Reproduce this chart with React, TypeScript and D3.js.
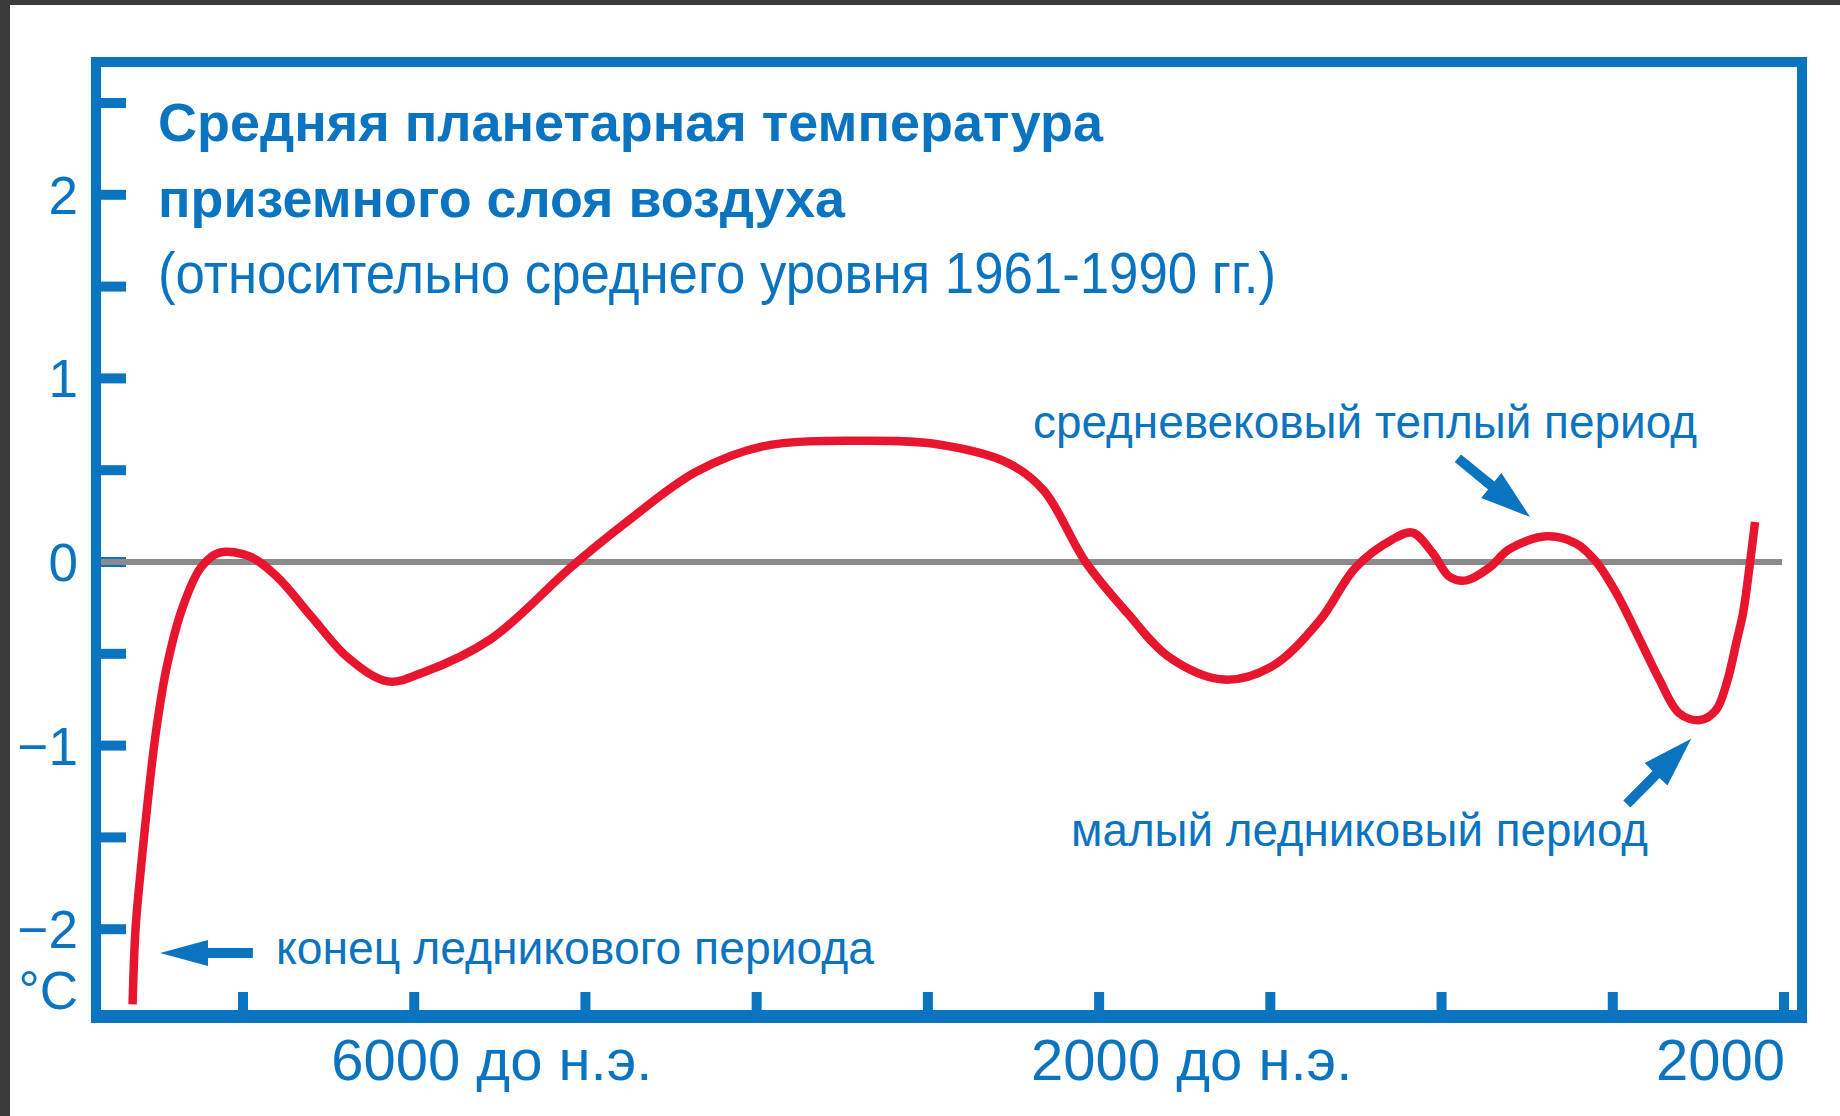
import React from "react";
import * as d3 from "d3";

// ---- data ----
const years: number[] = [
  -7645, -7627, -7591, -7556, -7509, -7445, -7352, -7246, -7141, -6960,
  -6802, -6598, -6388, -6154, -5944, -5553, -5086, -4770, -4356, -3965,
  -3352, -2937, -2534, -2324, -2079, -1833, -1588, -1273, -993, -713,
  -502, -292, -170, -53, 46, 145, 280, 396, 612, 788,
  904, 1021, 1156, 1272, 1386, 1509, 1603, 1667, 1725, 1761,
  1802, 1831,
];
const temps: number[] = [
  -2.41, -1.99, -1.62, -1.3, -0.93, -0.57, -0.245, -0.03, 0.05, 0.03,
  -0.08, -0.3, -0.52, -0.65, -0.6, -0.42, -0.03, 0.21, 0.49, 0.63,
  0.66, 0.64, 0.54, 0.39, 0.0, -0.28, -0.52, -0.64, -0.57, -0.32,
  -0.03, 0.12, 0.16, 0.05, -0.08, -0.1, -0.03, 0.07, 0.14, 0.1,
  0.0, -0.17, -0.42, -0.64, -0.822, -0.861, -0.806, -0.654, -0.425, -0.278,
  0.0, 0.218,
];

const yTickValues: number[] = [-2, -1.5, -1, -0.5, 0, 0.5, 1, 1.5, 2, 2.5];
const yLabelValues: number[] = [2, 1, 0, -1, -2];
const yLabelTexts: string[] = ["2", "1", "0", "\u22121", "\u22122"];
const unitLabel = "°C";

const xTickValues: number[] = [-7000, -6000, -5000, -4000, -3000, -2000, -1000, 0, 1000, 2000];
const xLabelYears: number[] = [-6000, -2000, 2000];
const xLabelTexts: string[] = ["6000 до н.э.", "2000 до н.э.", "2000"];

const titleLines: string[] = [
  "Средняя  планетарная  температура",
  "приземного  слоя  воздуха",
];
const subtitle = "(относительно  среднего  уровня  1961-1990  гг.)";

const noteTexts: string[] = [
  "средневековый теплый период",
  "малый ледниковый период",
  "конец ледникового периода",
];

// annotation arrows: [tailYear, tailTemp, tipYear, tipTemp]
const arrowMWP: number[] = [95, 0.565, 517, 0.245];
const arrowLIA: number[] = [1082, -1.318, 1458, -0.963];
const arrowIce: number[] = [-6942, -2.13, -7485, -2.13];

// ---- layout ----
const W = 1840;
const H = 1116;
const BLUE = "#0b74c1";
const RED = "#e8152f";
const GRAY = "#8b8b8b";

const frameL = 91, frameR = 1807, frameT = 57, frameB = 1023;

const x = d3.scaleLinear().domain([-7000, 2000]).range([243, 1784]);
const y = d3.scaleLinear().domain([0, 1]).range([562, 378.4]);

function arrowPath(t: number[], headLen: number, headHalf: number, shaftHalf: number) {
  const tx = x(t[0]), ty = y(t[1]), px = x(t[2]), py = y(t[3]);
  const dx = px - tx, dy = py - ty;
  const len = Math.hypot(dx, dy);
  const ux = dx / len, uy = dy / len;
  const nx = -uy, ny = ux;
  const hx = px - ux * headLen, hy = py - uy * headLen;
  const pts = [
    [tx + nx * shaftHalf, ty + ny * shaftHalf],
    [hx + nx * shaftHalf, hy + ny * shaftHalf],
    [hx + nx * headHalf, hy + ny * headHalf],
    [px, py],
    [hx - nx * headHalf, hy - ny * headHalf],
    [hx - nx * shaftHalf, hy - ny * shaftHalf],
    [tx - nx * shaftHalf, ty - ny * shaftHalf],
  ];
  return "M" + pts.map((p) => p[0].toFixed(1) + "," + p[1].toFixed(1)).join("L") + "Z";
}

export default function App() {
  const pts: [number, number][] = years.map((yr, i) => [yr, temps[i]]);
  const line = d3
    .line<[number, number]>()
    .x((d) => x(d[0]))
    .y((d) => y(d[1]))
    .curve(d3.curveCatmullRom.alpha(0.5));

  const font = "'Liberation Sans', Arial, Helvetica, sans-serif";
  const narrow = "'Liberation Sans Narrow', 'Arial Narrow', 'Liberation Sans', Arial, sans-serif";
  const xLabelOffsets = [-83, -68, 1];

  return (
    <svg
      width={W}
      height={H}
      viewBox={`0 0 ${W} ${H}`}
      style={{ position: "absolute", left: 0, top: 0, display: "block" }}
    >
      <rect x={0} y={0} width={W} height={H} fill="#3b3b3b" />
      <rect x={10} y={5} width={W - 10} height={H - 5} fill="#ffffff" />

      {/* title */}
      <g fill={BLUE} fontFamily={font} style={{ whiteSpace: "pre" }}>
        <text x={158} y={141} fontSize={54} fontWeight="bold" textLength={945} lengthAdjust="spacingAndGlyphs">
          {titleLines[0]}
        </text>
        <text x={158} y={217} fontSize={54} fontWeight="bold" textLength={687} lengthAdjust="spacingAndGlyphs">
          {titleLines[1]}
        </text>
        <text x={158} y={293} fontSize={57} fontFamily={narrow} textLength={1118} lengthAdjust="spacingAndGlyphs">
          {subtitle}
        </text>
      </g>

      {/* y ticks */}
      {yTickValues.map((v) => (
        <rect key={"yt" + v} x={frameL + 10} y={y(v) - 5} width={25} height={10} fill={BLUE} />
      ))}
      {/* x ticks */}
      {xTickValues.map((v) => (
        <rect key={"xt" + v} x={x(v) - 5} y={992} width={10} height={20} fill={BLUE} />
      ))}

      {/* frame */}
      <rect x={frameL} y={frameT} width={frameR - frameL} height={10} fill={BLUE} />
      <rect x={frameL} y={frameT} width={10} height={frameB - frameT} fill={BLUE} />
      <rect x={frameR - 10} y={frameT} width={10} height={frameB - frameT} fill={BLUE} />
      <rect x={frameL} y={1010} width={frameR - frameL} height={frameB - 1010} fill={BLUE} />

      {/* zero line */}
      <line x1={frameL + 10} x2={x(2000) - 2} y1={y(0)} y2={y(0)} stroke={GRAY} strokeWidth={6} />

      {/* curve */}
      <path d={line(pts) || ""} fill="none" stroke={RED} strokeWidth={8.5} strokeLinejoin="round" strokeLinecap="butt" />

      {/* y labels */}
      <g fill={BLUE} fontFamily={font} fontSize={53} textAnchor="end">
        {yLabelValues.map((v, i) => (
          <text key={"yl" + v} x={78} y={y(v) + 19}>
            {yLabelTexts[i]}
          </text>
        ))}
        <text x={78} y={1009}>{unitLabel}</text>
      </g>

      {/* x labels */}
      <g fill={BLUE} fontFamily={font} fontSize={58}>
        {xLabelYears.map((yr, i) => (
          <text
            key={"xl" + i}
            x={x(yr) + xLabelOffsets[i]}
            y={1080}
            textAnchor={i === xLabelYears.length - 1 ? "end" : "start"}
          >
            {xLabelTexts[i]}
          </text>
        ))}
      </g>

      {/* annotations */}
      <g fill={BLUE} fontFamily={font} fontSize={46}>
        <text x={1033} y={438} textLength={664} lengthAdjust="spacingAndGlyphs">{noteTexts[0]}</text>
        <text x={1071} y={846} textLength={577} lengthAdjust="spacingAndGlyphs">{noteTexts[1]}</text>
        <text x={276} y={964} textLength={598} lengthAdjust="spacingAndGlyphs">{noteTexts[2]}</text>
      </g>
      <g fill={BLUE}>
        <path d={arrowPath(arrowMWP, 50, 16, 5)} />
        <path d={arrowPath(arrowLIA, 50, 16, 5)} />
        <path d={arrowPath(arrowIce, 48, 13, 5)} />
      </g>
    </svg>
  );
}
